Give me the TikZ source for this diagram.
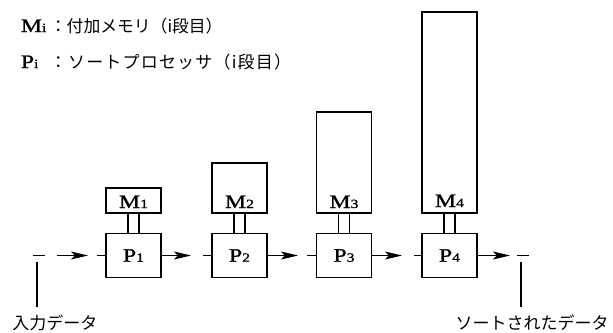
\documentclass[tikz,border=0pt]{standalone}
\usepackage{fontspec}
\setmainfont{Liberation Serif}
\newfontfamily\lat[FakeStretch=1.25,FakeBold=1.2]{Liberation Serif}
\newfontfamily\jp{Noto Sans CJK JP}
\usetikzlibrary{arrows.meta}
\newcommand\sbs[1]{{\fontsize{12.5}{12.5}\selectfont #1}}
\begin{document}
\begin{tikzpicture}[x=1pt,y=-1pt,line width=1.8pt,
  pbox/.style={draw,minimum width=55pt,minimum height=44pt,inner sep=0pt,font=\lat\fontsize{19}{19}\selectfont},
  mbox/.style={draw,minimum width=55pt,inner sep=0pt,anchor=south},
  mlab/.style={anchor=base,inner sep=0pt,font=\lat\fontsize{19}{19}\selectfont},
  link/.style={line width=1.5pt},
  flow/.style={line width=1.5pt,-{Stealth[length=17pt,width=8pt,inset=4pt]}},
  dashseg/.style={line width=1.5pt},
  lab/.style={font=\jp\fontsize{17}{17}\selectfont,inner sep=0pt},
  legend/.style={anchor=base west,inner sep=0pt,font=\lat\fontsize{19}{19}\selectfont}]
\useasboundingbox (0,0) rectangle (613,332);

% legend
\node[legend] (leg1) at (20,32) {\makebox[29pt][l]{M\sbs{i}}{\jp\fontsize{16.8}{16.8}\selectfont ：付加メモリ（i段目）}};
\node[legend] (leg2) at (20,68) {\makebox[29pt][l]{P\sbs{i}}{\jp\fontsize{17}{17}\selectfont\addfontfeature{LetterSpace=7} ：ソートプロセッサ（i段目）}};

% processors
\node[pbox] (P1) at (133.5,255.5) {P\sbs{1}};
\node[pbox] (P2) at (239.5,255.5) {P\sbs{2}};
\node[pbox] (P3) at (344,255.5) {P\sbs{3}};
\node[pbox] (P4) at (449.5,255.5) {P\sbs{4}};

% memories
\node[mbox,minimum height=25pt] (M1) at (133.5,214) {};
\node[mbox,minimum height=50pt] (M2) at (239.5,214) {};
\node[mbox,minimum height=101pt] (M3) at (344,214) {};
\node[mbox,minimum height=201pt] (M4) at (449.5,214) {};
\node[mlab] (L1) at (133.5,208) {M\sbs{1}};
\node[mlab] (L2) at (239.5,208) {M\sbs{2}};
\node[mlab] (L3) at (344,208) {M\sbs{3}};
\node[mlab] (L4) at (449.5,207) {M\sbs{4}};

% memory-processor links
\foreach \i in {1,2,3,4}{
  \draw[link] ([xshift=-5.5pt]M\i.south) -- ([xshift=-5.5pt]P\i.north);
  \draw[link] ([xshift=5.5pt]M\i.south) -- ([xshift=5.5pt]P\i.north);
}

% input
\coordinate (i1) at (33,255.5);
\coordinate (i2) at (45,255.5);
\coordinate (i3) at (57,255.5);
\coordinate (i4) at (88,255.5);
\coordinate (i5) at (97,255.5);
\draw[dashseg] (i1) -- (i2);
\draw[flow] (i3) -- (i4);
\draw[dashseg] (i5) -- (P1.west);

% between processors
\coordinate (a1) at (191,255.5);
\coordinate (b1) at (203,255.5);
\coordinate (a2) at (298,255.5);
\coordinate (b2) at (307,255.5);
\coordinate (a3) at (402,255.5);
\coordinate (b3) at (414,255.5);
\draw[flow] (P1.east) -- (a1);
\draw[dashseg] (b1) -- (P2.west);
\draw[flow] (P2.east) -- (a2);
\draw[dashseg] (b2) -- (P3.west);
\draw[flow] (P3.east) -- (a3);
\draw[dashseg] (b3) -- (P4.west);

% output
\coordinate (o1) at (510,255.5);
\coordinate (o2) at (517,255.5);
\coordinate (o3) at (529,255.5);
\draw[flow] (P4.east) -- (o1);
\draw[dashseg] (o2) -- (o3);

% labels
\node[lab] (inlab) at (55,322.5) {入力データ};
\node[lab] (outlab) at (532,322.5) {ソートされたデータ};
\coordinate (v1a) at (37,262);
\coordinate (v1b) at (37,307);
\coordinate (v2a) at (521,262);
\coordinate (v2b) at (521,307);
\draw[link] (v1a) -- (v1b);
\draw[link] (v2a) -- (v2b);
\end{tikzpicture}
\end{document}
